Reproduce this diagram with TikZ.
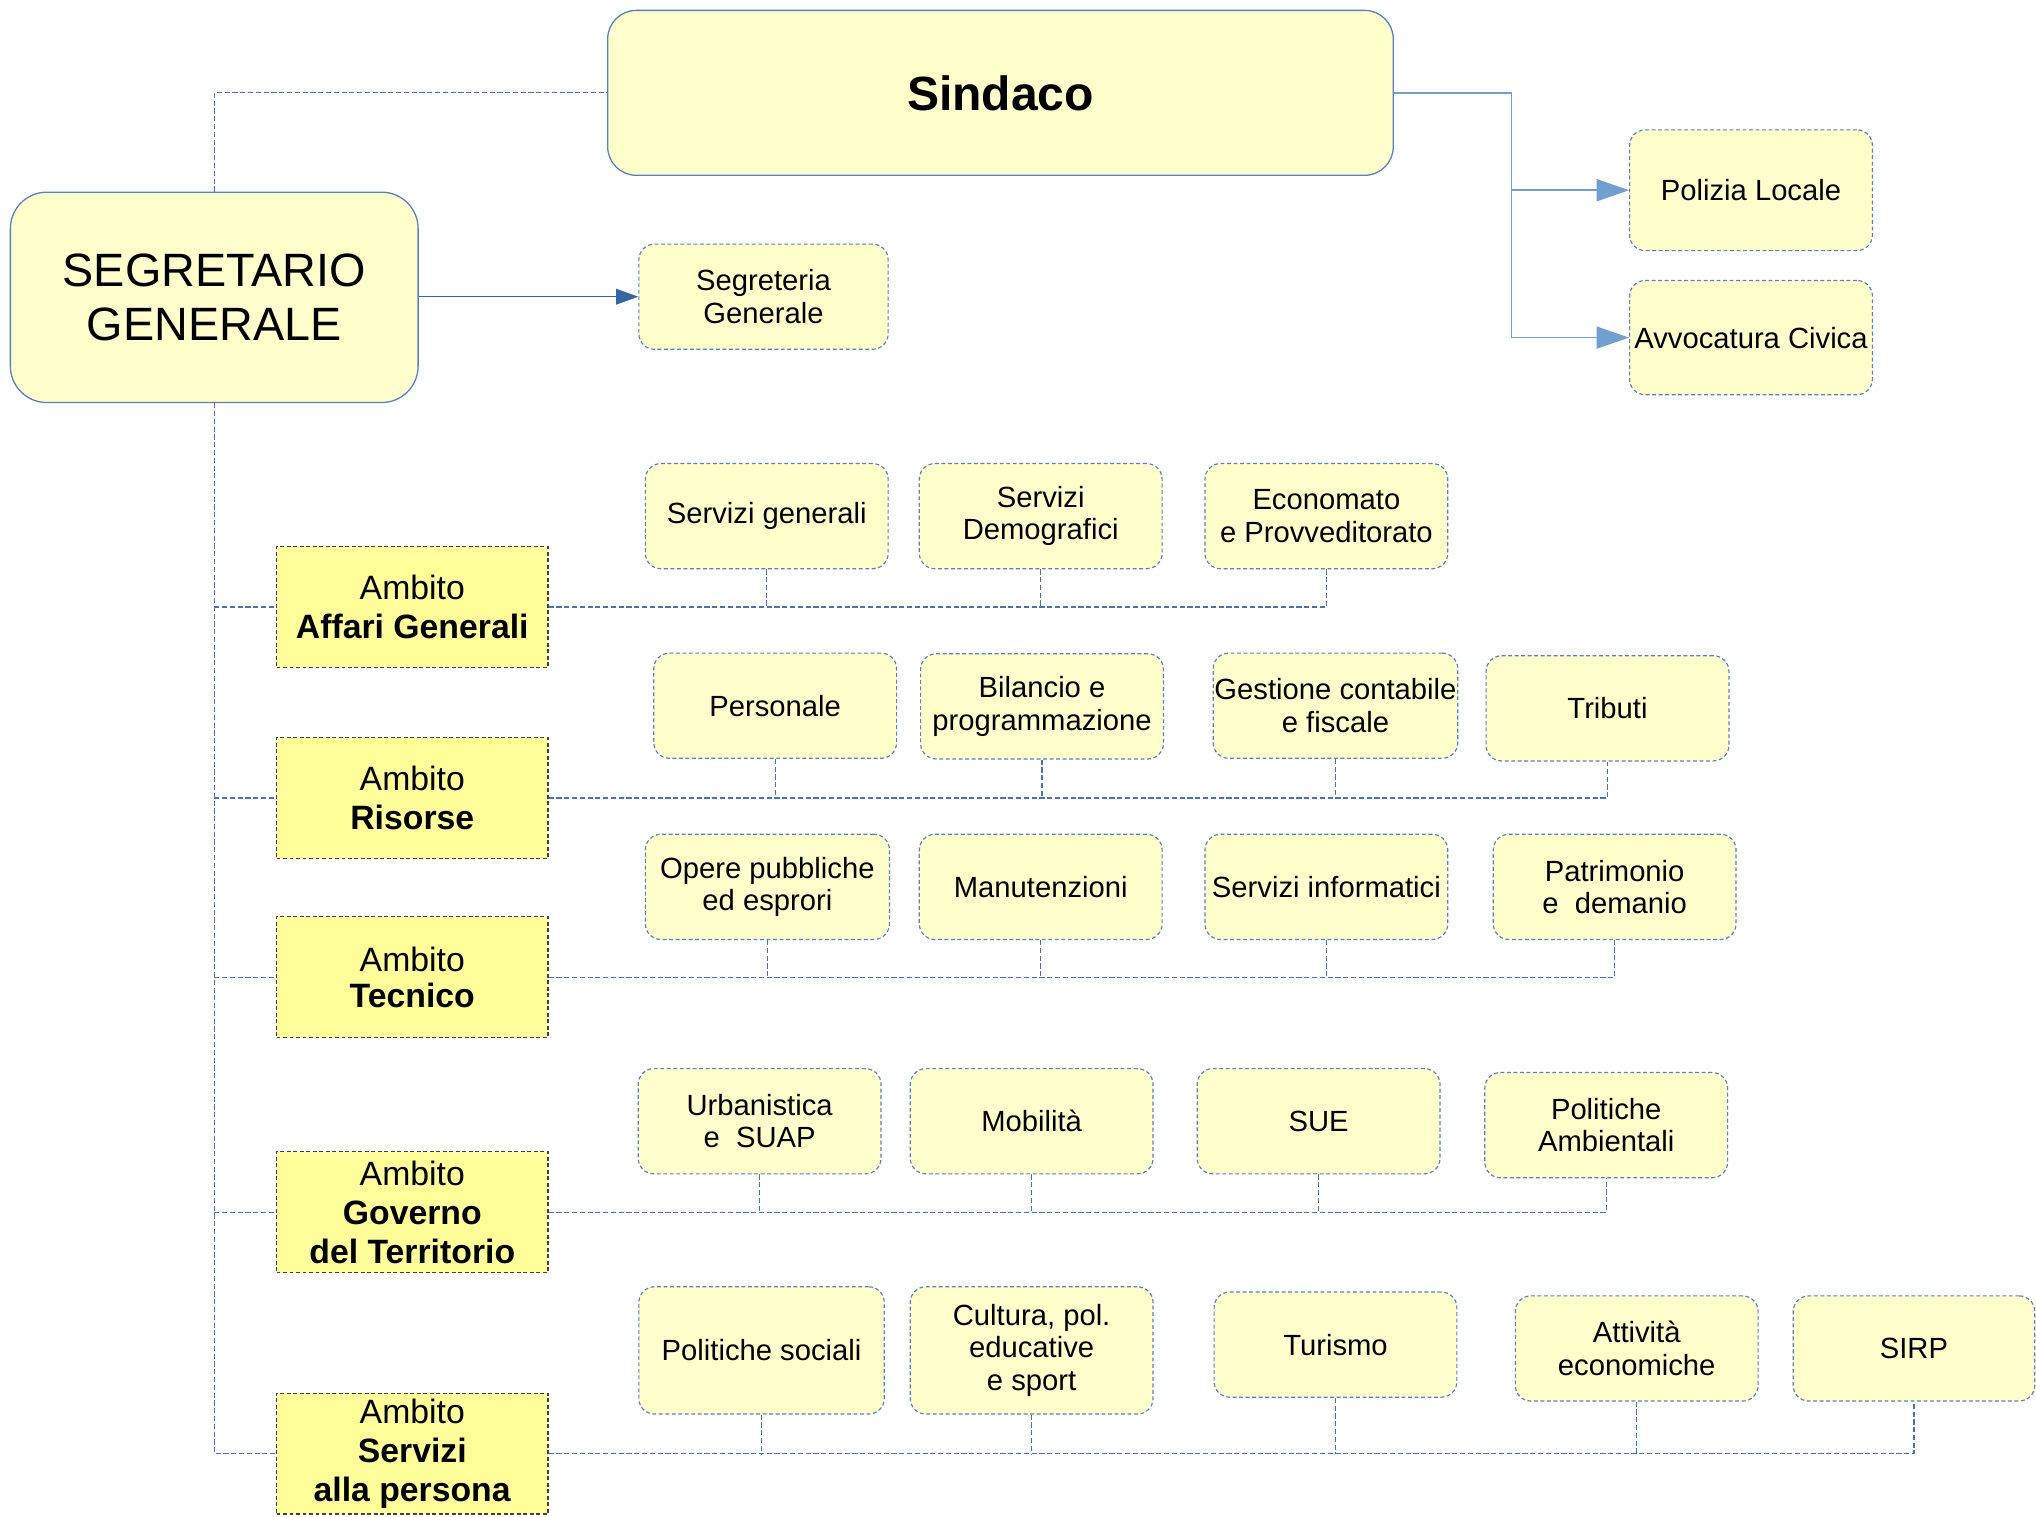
\documentclass[tikz,border=0pt]{standalone}
\usepackage{fontspec}
\setmainfont{Liberation Sans}
\usetikzlibrary{arrows.meta}
\definecolor{boxfill}{HTML}{FFFFCC}
\definecolor{ambfill}{HTML}{FFFF99}
\definecolor{bord}{HTML}{5A80C0}
\definecolor{conncol}{HTML}{4A72B0}
\definecolor{lightarr}{HTML}{729FCF}
\definecolor{darkarr}{HTML}{3465A4}
\tikzset{
 unitbox/.style={draw=bord, fill=boxfill, rounded corners=12pt, dash pattern=on 3pt off 2pt, line width=0.9pt, minimum width=187pt, minimum height=81pt, inner sep=1pt, align=center, font=\fontsize{22.5}{25}\selectfont},
 ambbox/.style={draw=black!75, fill=ambfill, dash pattern=on 3pt off 2pt, line width=0.9pt, minimum width=209pt, minimum height=93pt, inner sep=1pt, align=center, font=\fontsize{26}{30}\selectfont},
 topbox/.style={draw=bord, fill=boxfill, line width=1pt, align=center, inner sep=1pt},
 conn/.style={draw=conncol, dash pattern=on 4pt off 2pt, line width=0.9pt},
 lightline/.style={draw=lightarr, line width=1.2pt},
 lighthead/.style={lightline, -{Triangle[length=25pt,width=17pt]}},
 darkhead/.style={draw=darkarr, line width=1.2pt, -{Triangle[length=17pt,width=12pt]}},
}
\begin{document}
\begin{tikzpicture}[x=1pt,y=-1pt]
\useasboundingbox[fill=white] (0,0) rectangle (1568,1168);

% top level
\node[topbox, rounded corners=22pt, minimum width=605pt, minimum height=127pt, font=\fontsize{37}{42}\selectfont\bfseries] (sind) at (770.5,71.5) {Sindaco};
\node[topbox, rounded corners=28pt, minimum width=314pt, minimum height=162pt, font=\fontsize{36}{42}\selectfont] (segr) at (165,229) {SEGRETARIO\\GENERALE};
\node[unitbox, minimum width=192pt] (segg) at (588,228.5) {Segreteria\\Generale};
\node[unitbox, minimum height=93pt] (pol) at (1348.5,146.5) {Polizia Locale};
\node[unitbox, minimum height=88pt] (avv) at (1348.5,260) {Avvocatura Civica};

% ambiti
\node[ambbox] (a1) at (317.5,467.5) {Ambito\\\textbf{Affari Generali}};
\node[ambbox] (a2) at (317.5,614.5) {Ambito\\\textbf{Risorse}};
\node[ambbox, font=\fontsize{26}{28}\selectfont] (a3) at (317.5,752.5) {Ambito\\\textbf{Tecnico}};
\node[ambbox] (a4) at (317.5,933.5) {Ambito\\\textbf{Governo}\\\textbf{del Territorio}};
\node[ambbox] (a5) at (317.5,1119.5) {Ambito\\\textbf{Servizi}\\\textbf{alla persona}};

% row 1
\node[unitbox] (r11) at (590.5,397.5) {Servizi generali};
\node[unitbox] (r12) at (801.5,397.5) {Servizi\\Demografici};
\node[unitbox] (r13) at (1021.5,397.5) {Economato\\e Provveditorato};
% row 2
\node[unitbox] (r21) at (597,543.5) {Personale};
\node[unitbox] (r22) at (802.5,544) {Bilancio e\\programmazione};
\node[unitbox] (r23) at (1028.5,543.5) {Gestione contabile\\e fiscale};
\node[unitbox] (r24) at (1238,545.5) {Tributi};
% row 3
\node[unitbox, minimum width=188pt] (r31) at (591,683) {Opere pubbliche\\ed esprori};
\node[unitbox] (r32) at (801.5,683) {Manutenzioni};
\node[unitbox] (r33) at (1021.5,683) {Servizi informatici};
\node[unitbox] (r34) at (1243.5,683) {Patrimonio\\e\ \ demanio};
% row 4
\node[unitbox] (r41) at (585,863.5) {Urbanistica\\e\ \ SUAP};
\node[unitbox] (r42) at (794.5,863.5) {Mobilità};
\node[unitbox] (r43) at (1015.5,863.5) {SUE};
\node[unitbox] (r44) at (1237,866.5) {Politiche\\Ambientali};
% row 5
\node[unitbox, minimum width=189pt, minimum height=98pt] (r51) at (586.5,1040) {Politiche sociali};
\node[unitbox, minimum height=98pt] (r52) at (794.5,1040) {Cultura, pol.\\educative\\e sport};
\node[unitbox] (r53) at (1028.5,1035.5) {Turismo};
\node[unitbox] (r54) at (1260.5,1038.5) {Attività\\economiche};
\node[unitbox, minimum width=186pt] (r55) at (1474,1038.5) {SIRP};

% connectors top
\draw[conn] (segr.north) |- (sind.west);
\draw[darkhead] (segr.east |- segg.west) -- (segg.west);
\coordinate (br) at (1164,71.5);
\draw[lightline] (sind.east) -- (br) -- (br |- avv.west);
\draw[lighthead] (br |- pol.west) -- (pol.west);
\draw[lighthead] (br |- avv.west) -- (avv.west);

% spine
\draw[conn] (segr.south) -- (segr.south |- a5.west) -- (a5.west);
\foreach \a in {a1,a2,a3,a4}{
  \draw[conn] (segr.south |- \a.west) -- (\a.west);
}

% row connectors
\draw[conn] (a1.east) -- (r13.south |- a1.east) -- (r13.south);
\foreach \r in {r11,r12}{ \draw[conn] (\r.south) -- (\r.south |- a1.east); }
\draw[conn] (a2.east) -- (r24.south |- a2.east) -- (r24.south);
\foreach \r in {r21,r22,r23}{ \draw[conn] (\r.south) -- (\r.south |- a2.east); }
\draw[conn] (a3.east) -- (r34.south |- a3.east) -- (r34.south);
\foreach \r in {r31,r32,r33}{ \draw[conn] (\r.south) -- (\r.south |- a3.east); }
\draw[conn] (a4.east) -- (r44.south |- a4.east) -- (r44.south);
\foreach \r in {r41,r42,r43}{ \draw[conn] (\r.south) -- (\r.south |- a4.east); }
\draw[conn] (a5.east) -- (r55.south |- a5.east) -- (r55.south);
\foreach \r in {r51,r52,r53,r54}{ \draw[conn] (\r.south) -- (\r.south |- a5.east); }
\end{tikzpicture}
\end{document}
